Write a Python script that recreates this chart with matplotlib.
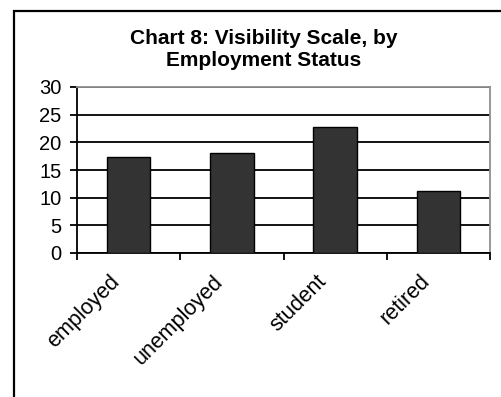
import matplotlib
matplotlib.use("Agg")
import matplotlib.pyplot as plt
from matplotlib.lines import Line2D
from matplotlib.transforms import ScaledTranslation

categories = ["employed", "unemployed", "student", "retired"]
values = [17.4, 18.1, 22.8, 11.2]
yticks = [0, 5, 10, 15, 20, 25, 30]

W, H = 501, 397
plt.rcParams["font.family"] = ["Liberation Sans", "DejaVu Sans"]

fig = plt.figure(figsize=(W / 100, H / 100), dpi=100)
fig.patch.set_facecolor("white")

# outer chart frame (left and top edges)
px = lambda x: x / W
py = lambda y: 1 - y / H
fig.add_artist(Line2D([px(13.5), px(13.5), px(W)], [py(H), py(11), py(11)],
                      transform=fig.transFigure, color="black", lw=1.6,
                      solid_joinstyle="miter"))

ax = fig.add_axes([px(77), py(253), px(490) - px(77), py(87) - py(253)])
x = list(range(len(categories)))
ax.bar(x, values, width=0.42, color="#333333", edgecolor="black", linewidth=1.0, zorder=3)

ax.set_xlim(-0.5, len(categories) - 0.5)
ax.set_ylim(0, 30)
ax.set_yticks(yticks)
ax.set_yticklabels([str(t) for t in yticks], fontsize=14.5)
ax.yaxis.grid(True, color="black", linewidth=1.3, zorder=1)
ax.set_axisbelow(True)

# category boundaries carry the tick marks; names are placed under each bar
ax.set_xticks([i + 0.5 for i in range(-1, len(categories))])
ax.set_xticklabels([])
label_tf = ax.get_xaxis_transform() + ScaledTranslation(-19 / 100, -18 / 100, fig.dpi_scale_trans)
for xi, name in zip(x, categories):
    ax.text(xi, 0, name, transform=label_tf, rotation=45, ha="right", va="top",
            rotation_mode="anchor", fontsize=15.5, clip_on=False)

ax.tick_params(axis="x", direction="out", length=5, width=1.3, color="black")
ax.tick_params(axis="y", direction="out", length=5, width=1.3, pad=6)

for side in ("left", "bottom"):
    ax.spines[side].set_color("black")
    ax.spines[side].set_linewidth(1.3)
for side in ("top", "right"):
    ax.spines[side].set_color("#909090")
    ax.spines[side].set_linewidth(1.3)

fig.text(px(264), py(50), "Chart 8: Visibility Scale, by\nEmployment Status",
         ha="center", va="center", fontsize=15, fontweight="bold", linespacing=1.2)

fig.savefig("out.png", dpi=100, facecolor="white")
